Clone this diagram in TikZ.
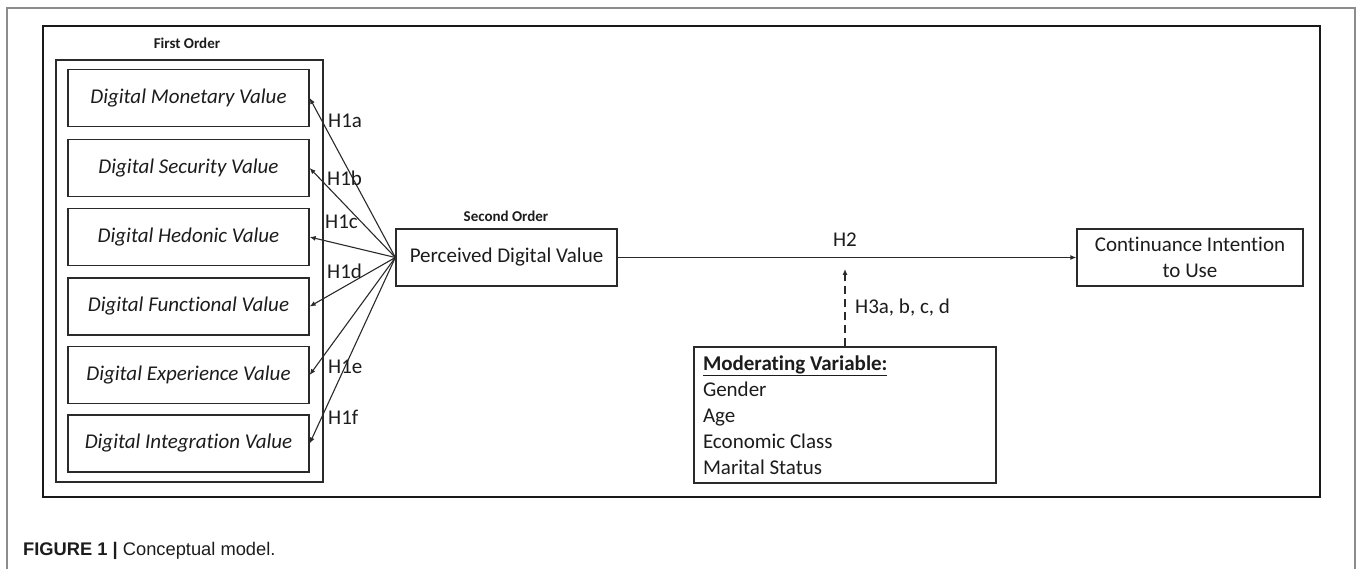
\documentclass[tikz,border=0pt]{standalone}
\usepackage{fontspec}
\setmainfont{Carlito}[Ligatures=NoCommon]
\newfontfamily\capfont{Liberation Sans}
\usetikzlibrary{arrows.meta}
\definecolor{ln}{HTML}{2a2a2a}
\definecolor{tx}{HTML}{1c1c1c}
\begin{document}
\begin{tikzpicture}[x=1pt,y=-1pt,
  box/.style={draw=ln,line width=1.3pt,inner sep=0pt,text=tx,font=\fontsize{21}{26}\selectfont},
  item/.style={box,minimum width=241pt,minimum height=57pt,font=\fontsize{21}{26}\selectfont\itshape},
  hlab/.style={text=tx,font=\fontsize{21}{26}\selectfont,inner sep=0pt},
  small/.style={text=tx,font=\fontsize{15}{18}\selectfont\bfseries,inner sep=0pt},
  arr/.style={draw=ln,line width=1.1pt,-{Latex[length=6pt,width=5pt]}}]
\useasboundingbox (0,0) rectangle (1358,569);
% outer frame
\draw[color=black!45,line width=1.4pt] (7,575) -- (7,8) -- (1355,8) -- (1355,575);
% inner frame
\draw[color=black!90,line width=2.2pt] (43,26) rectangle (1320,497);
% first order group
\node[small] (fo) at (187,43) {First Order};
\draw[draw=ln,line width=1.3pt] (56,60) rectangle (323,482);
\node[item] (m1) at (188.5,98) {Digital Monetary Value};
\node[item] (m2) at (188.5,168) {Digital Security Value};
\node[item] (m3) at (188.5,237) {Digital Hedonic Value};
\node[item] (m4) at (188.5,306.5) {Digital Functional Value};
\node[item] (m5) at (188.5,375) {Digital Experience Value};
\node[item] (m6) at (188.5,443.5) {Digital Integration Value};
% second order
\node[small] (so) at (506,216) {Second Order};
\node[box,minimum width=221pt,minimum height=57pt] (pdv) at (506.5,257.5) {Perceived Digital Value};
\foreach \i in {1,...,6}{\draw[arr] (pdv.west) -- (m\i.east);}
\node[hlab,anchor=west] at (328,121) {H1a};
\node[hlab,anchor=west] at (327,178) {H1b};
\node[hlab,anchor=west] at (325,222) {H1c};
\node[hlab,anchor=west] at (327,271) {H1d};
\node[hlab,anchor=west] at (328,367) {H1e};
\node[hlab,anchor=west] at (328,417) {H1f};
% continuance
\node[box,minimum width=226pt,minimum height=57pt,align=center] (ci) at (1190,257.5) {Continuance Intention\\to Use};
\draw[arr] (pdv.east) -- (ci.west);
\node[hlab] (h2) at (845,240) {H2};
% moderating
\node[box,minimum width=302pt,minimum height=136pt,text width=284pt,inner xsep=9pt,align=flush left] (mod) at (845,415)
 {\textbf{\underline{Moderating Variable:}}\\Gender\\Age\\Economic Class\\Marital Status};
\coordinate (h2t) at (845,269);
\draw[arr,dash pattern=on 8pt off 5pt] (mod.north) -- (h2t);
\node[hlab,anchor=west] at (855,308) {H3a, b, c, d};
% caption
\node[anchor=base west,inner sep=0pt,text=tx,font=\capfont\fontsize{18.3}{22}\selectfont] (cap) at (23,555) {\textbf{FIGURE 1 |} Conceptual model.};
\end{tikzpicture}
\end{document}
